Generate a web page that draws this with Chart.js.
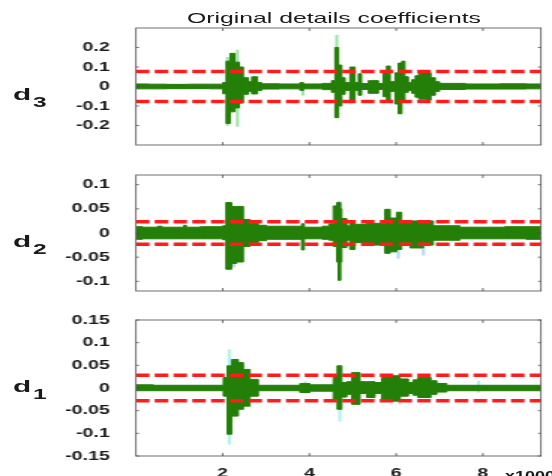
<!DOCTYPE html>
<html>
<head>
<meta charset="utf-8">
<script src="https://cdn.jsdelivr.net/npm/chart.js@4/dist/chart.umd.min.js"></script>
<style>
  body { margin: 0; width: 552px; height: 476px; overflow: hidden; background: #fff; position: relative; font-family: "Liberation Sans", Arial, sans-serif; }
  .panel { position: absolute; left: 0; top: 0; width: 368px; height: 476px; transform: scaleX(1.5); transform-origin: 0 0; filter: blur(0.4px); }
  .txt { position: absolute; white-space: nowrap; color: #1a1a1a; transform-origin: 0 0; }
  #title { left: 334px; top: 10px; font-size: 15px; line-height: 15px; transform: translateX(-50%) scaleX(1.65); transform-origin: 50% 50%; }
  .d { font-weight: bold; font-size: 17px; line-height: 17px; left: 13px; transform: scaleX(1.75); }
  .sub { font-weight: bold; font-size: 14px; line-height: 14px; left: 33px; transform: scaleX(1.75); }
  #mult { left: 505px; top: 470px; font-size: 12px; line-height: 12px; font-weight: bold; transform: scaleX(1.5); }
</style>
</head>
<body>
<div class="panel"><canvas id="c3" width="368" height="476"></canvas></div>
<div class="panel"><canvas id="c2" width="368" height="476"></canvas></div>
<div class="panel"><canvas id="c1" width="368" height="476"></canvas></div>

<div id="title" class="txt">Original details coefficients</div>
<div class="txt d" style="top:86px">d</div><div class="txt sub" style="top:95px">3</div>
<div class="txt d" style="top:233px">d</div><div class="txt sub" style="top:242px">2</div>
<div class="txt d" style="top:378px">d</div><div class="txt sub" style="top:387px">1</div>
<div id="mult" class="txt">x1000</div>

<script>
// x axis in samples, labelled in thousands
const xMax = 9340;
const xTicks = [2000, 4000, 6000, 8000];

// d3 envelope (value holds from x[i] to x[i+1])
const d3X  = [0,300,700,1200,1700,2000,2080,2170,2280,2380,2475,2590,2670,2800,2900,3300,3780,3860,4300,4510,4590,4670,4745,4820,4935,5050,5130,5200,5360,5590,5700,5780,5860,5975,6050,6130,6200,6280,6360,6440,6520,6700,6800,6900,7000,7600,8400,9000,9340];
const d3Hi = [0.013,0.012,0.011,0.012,0.012,0.02,0.13,0.17,0.125,0.1,0.045,0.025,0.05,0.02,0.014,0.013,0.02,0.013,0.016,0.03,0.2,0.11,0.045,0.02,0.1,0.02,0.065,0.015,0.03,0.015,0.07,0.105,0.025,0.07,0.12,0.13,0.05,0.02,0.035,0.055,0.075,0.07,0.045,0.025,0.016,0.013,0.014,0.013,0.013];
const d3Lo = [-0.012,-0.012,-0.011,-0.011,-0.012,-0.037,-0.19,-0.13,-0.11,-0.085,-0.04,-0.025,-0.038,-0.02,-0.013,-0.012,-0.02,-0.012,-0.016,-0.03,-0.16,-0.1,-0.04,-0.02,-0.08,-0.02,-0.045,-0.015,-0.035,-0.015,-0.052,-0.07,-0.025,-0.09,-0.14,-0.07,-0.03,-0.02,-0.035,-0.055,-0.065,-0.07,-0.045,-0.025,-0.015,-0.013,-0.013,-0.012,-0.012];
const d3SpikeX  = [2110, 2340, 3850, 4630];
const d3SpikeLo = [-0.2, -0.205, -0.045, -0.06];
const d3SpikeHi = [0.15, 0.187, 0.01, 0.262];
const d3Thr = 0.077;
const d3Ticks = [-0.2, -0.1, 0, 0.1, 0.2];

// d2 envelope
const d2X  = [0,150,500,600,1100,1160,1476,2000,2075,2205,2320,2475,2630,2820,3010,3820,3880,4300,4450,4550,4630,4665,4720,4745,4860,4935,5050,5320,5740,5860,6010,6125,6320,6625,6855,7470,8500,9000,9340];
const d2Hi = [0.013,0.012,0.014,0.012,0.016,0.012,0.013,0.015,0.063,0.055,0.055,0.028,0.02,0.016,0.014,0.019,0.012,0.014,0.019,0.056,0.063,0.063,0.05,0.03,0.015,0.022,0.018,0.02,0.049,0.031,0.043,0.022,0.025,0.025,0.015,0.012,0.013,0.013,0.013];
const d2Lo = [-0.013,-0.012,-0.012,-0.012,-0.012,-0.012,-0.012,-0.014,-0.075,-0.063,-0.06,-0.028,-0.02,-0.016,-0.013,-0.035,-0.012,-0.013,-0.015,-0.028,-0.06,-0.098,-0.06,-0.03,-0.015,-0.034,-0.02,-0.025,-0.042,-0.039,-0.034,-0.02,-0.031,-0.025,-0.015,-0.012,-0.012,-0.013,-0.013];
const d2SpikeX  = [2260, 4690, 6050, 6630];
const d2SpikeLo = [-0.07, 0.04, -0.052, -0.046];
const d2SpikeHi = [-0.05, 0.066, -0.03, -0.025];
const d2Thr = 0.0235;
const d2Ticks = [-0.1, -0.05, 0, 0.05, 0.1];

// d1 envelope
const d1X  = [0,400,2015,2105,2205,2360,2475,2630,2820,3780,4010,4550,4640,4745,4860,4975,5165,5320,5510,5665,5860,6090,6280,6395,6500,6800,6935,7165,9340];
const d1Hi = [0.007,0.006,0.023,0.049,0.063,0.056,0.041,0.019,0.006,0.01,0.007,0.027,0.049,0.012,0.014,0.034,0.014,0.014,0.012,0.023,0.027,0.02,0.012,0.018,0.023,0.016,0.01,0.006,0.006];
const d1Lo = [-0.006,-0.006,-0.018,-0.102,-0.062,-0.047,-0.04,-0.018,-0.006,-0.01,-0.007,-0.025,-0.047,-0.02,-0.014,-0.036,-0.012,-0.021,-0.012,-0.025,-0.029,-0.018,-0.012,-0.016,-0.021,-0.014,-0.009,-0.006,-0.006];
const d1SpikeX  = [2150, 3900, 4700, 6080, 7900];
const d1SpikeLo = [-0.124, 0, -0.073, -0.036, -0.01];
const d1SpikeHi = [0.085, 0.014, 0.03, 0, 0.015];
const d1Thr = 0.028;
const d1Ticks = [-0.15, -0.1, -0.05, 0, 0.05, 0.1, 0.15];

const GREEN = '#237f08';
const RED = '#ff1c1c';
const TICK_FONT = { family: '"Liberation Sans", Arial, sans-serif', size: 13, weight: 'bold' };
const PLOT_LEFT = 136 / 1.5;   // native px (canvas is stretched 1.5x)
const PLOT_RIGHT_PAD = (552 - 541) / 1.5;

// box round the plot + inward tick marks
const framePlugin = {
  id: 'frame',
  afterDatasetsDraw(chart, args, opts) {
    const { ctx, chartArea: a, scales: { x, y } } = chart;
    ctx.save();
    ctx.strokeStyle = '#4a4a4a';
    ctx.lineWidth = 0.8;
    ctx.strokeRect(a.left, a.top, a.width, a.height);
    ctx.beginPath();
    xTicks.forEach(v => {
      const px = x.getPixelForValue(v);
      ctx.moveTo(px, a.top); ctx.lineTo(px, a.top + 3);
      ctx.moveTo(px, a.bottom); ctx.lineTo(px, a.bottom - 3);
    });
    opts.yTicks.forEach(v => {
      const py = y.getPixelForValue(v);
      ctx.moveTo(a.left, py); ctx.lineTo(a.left + 2, py);
      ctx.moveTo(a.right, py); ctx.lineTo(a.right - 2, py);
    });
    ctx.stroke();
    ctx.restore();
  }
};

const makePanel = (id, xs, hi, lo, spX, spLo, spHi, spColor, thr, yTicks, yMax, padTop, padBottom, bottomAxis, yellow) => {
  const thrLine = t => ({
    type: 'line', data: [{ x: 0, y: t }, { x: xMax, y: t }],
    borderColor: RED, borderWidth: 3.5, borderDash: [9, 3.5], pointRadius: 0, fill: false, order: 0
  });
  const datasets = [
    { type: 'line', data: xs.map((x, i) => ({ x, y: hi[i] })), stepped: true, borderColor: GREEN, borderWidth: 1, pointRadius: 0, fill: false, order: 1 },
    { type: 'line', data: xs.map((x, i) => ({ x, y: lo[i] })), stepped: true, borderColor: GREEN, borderWidth: 1, pointRadius: 0, fill: '-1', backgroundColor: GREEN, order: 1 },
    { type: 'bar', data: spX.map((x, i) => ({ x, y: [spLo[i], spHi[i]] })), backgroundColor: spColor, barThickness: 1.4, order: 2 },
    thrLine(thr), thrLine(-thr)
  ];
  if (yellow) {
    [thr, -thr].forEach(t => datasets.push({
      type: 'line', data: [{ x: 0, y: t }, { x: xMax, y: t }],
      borderColor: '#f4e21c', borderWidth: 1.6, borderDash: [2, 23], borderDashOffset: -4, pointRadius: 0, fill: false, order: 0
    }));
  }
  new Chart(document.getElementById(id), {
    type: 'line',
    data: { datasets },
    options: {
      responsive: false,
      animation: false,
      layout: { padding: { top: padTop, bottom: padBottom, left: 0, right: PLOT_RIGHT_PAD } },
      plugins: { legend: { display: false }, tooltip: { enabled: false }, frame: { yTicks } },
      scales: {
        x: {
          type: 'linear', min: 0, max: xMax, display: bottomAxis, offset: false,
          afterBuildTicks: s => { s.ticks = xTicks.map(v => ({ value: v })); },
          afterFit: s => { s.height = 20; },
          grid: { display: false, offset: false }, border: { display: false },
          ticks: { callback: v => String(v / 1000), font: TICK_FONT, color: '#1a1a1a', padding: 2, maxRotation: 0, autoSkip: false }
        },
        y: {
          min: -yMax, max: yMax,
          afterBuildTicks: s => { s.ticks = yTicks.map(v => ({ value: v })); },
          afterFit: s => { s.width = PLOT_LEFT; },
          grid: { display: false }, border: { display: false },
          ticks: { callback: v => String(v), font: TICK_FONT, color: '#1a1a1a', padding: 9.5, autoSkip: false }
        }
      }
    },
    plugins: [framePlugin]
  });
};

makePanel('c1', d3X, d3Hi, d3Lo, d3SpikeX, d3SpikeLo, d3SpikeHi, '#9fe3a6', d3Thr, d3Ticks, 0.3, 28, 476 - 165, false, false);
makePanel('c2', d2X, d2Hi, d2Lo, d2SpikeX, d2SpikeLo, d2SpikeHi, '#b9d6f2', d2Thr, d2Ticks, 0.12, 175, 476 - 311, false, true);
makePanel('c3', d1X, d1Hi, d1Lo, d1SpikeX, d1SpikeLo, d1SpikeHi, '#aef0f0', d1Thr, d1Ticks, 0.15, 320, 0, true, false);
</script>
</body>
</html>
